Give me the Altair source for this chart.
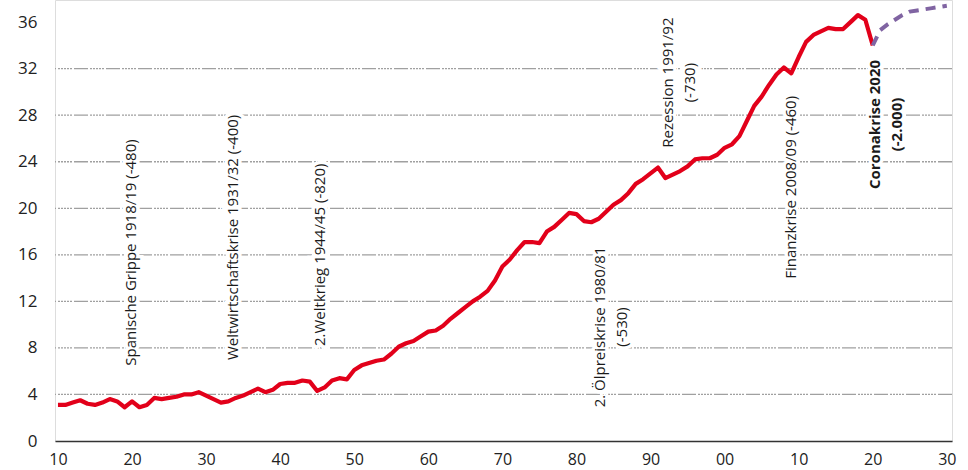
import altair as alt
import pandas as pd

hist_years = list(range(1910, 2021))
hist_values = [
    3.1, 3.1, 3.3, 3.5, 3.2, 3.1, 3.3, 3.6, 3.4, 2.9,
    3.4, 2.9, 3.1, 3.7, 3.6, 3.7, 3.8, 4.0, 4.0, 4.2,
    3.9, 3.6, 3.3, 3.4, 3.7, 3.9, 4.2, 4.5, 4.2, 4.4,
    4.9, 5.0, 5.0, 5.2, 5.1, 4.3, 4.6, 5.2, 5.4, 5.3,
    6.1, 6.5, 6.7, 6.9, 7.0, 7.5, 8.1, 8.4, 8.6, 9.0,
    9.4, 9.5, 9.9, 10.5, 11.0, 11.5, 12.0, 12.4, 12.9, 13.8,
    15.0, 15.6, 16.4, 17.1, 17.1, 17.0, 18.0, 18.4, 19.0, 19.6,
    19.5, 18.9, 18.8, 19.1, 19.7, 20.3, 20.7, 21.3, 22.1, 22.5,
    23.0, 23.5, 22.6, 22.9, 23.2, 23.6, 24.2, 24.3, 24.3, 24.6,
    25.2, 25.5, 26.2, 27.5, 28.8, 29.6, 30.6, 31.5, 32.1, 31.6,
    33.0, 34.3, 34.9, 35.2, 35.5, 35.4, 35.4, 36.0, 36.6, 36.2,
    34.0,
]
fc_years = list(range(2020, 2031))
fc_values = [34.0, 35.3, 35.8, 36.2, 36.6, 36.9, 37.0, 37.1, 37.2, 37.3, 37.4]

y_ticks = [0, 4, 8, 12, 16, 20, 24, 28, 32, 36]
grid_values = [4, 8, 12, 16, 20, 24, 28, 32]
x_ticks = list(range(1910, 2031, 5))

ann_labels = [
    "Spanische Grippe 1918/19 (-480)",
    "Weltwirtschaftskrise 1931/32 (-400)",
    "2.Weltkrieg 1944/45 (-820)",
    "2. Ölpreiskrise 1980/81\n(-530)",
    "Rezession 1991/92\n(-730)",
    "Finanzkrise 2008/09 (-460)",
]
ann_year = [1919.85, 1933.6, 1945.4, 1983.2, 1992.4, 2008.9]
ann_value = [16.2, 17.5, 16.0, 9.8, 30.8, 21.8]

corona_label = ["Coronakrise 2020\n(-2.000)"]
corona_year = [2020.3]
corona_value = [27.2]

hist = pd.DataFrame({"year": hist_years, "value": hist_values})
fc = pd.DataFrame({"year": fc_years, "value": fc_values})
grid = pd.DataFrame({"value": grid_values})
ann = pd.DataFrame({"label": ann_labels, "year": ann_year, "value": ann_value})
cor = pd.DataFrame({"label": corona_label, "year": corona_year, "value": corona_value})

FONT = "Open Sans"

xscale = alt.Scale(domain=[1909.6, 2030.7], nice=False, zero=False)
yscale = alt.Scale(domain=[0, 37.9], nice=False)

x_enc = alt.X(
    "year:Q",
    scale=xscale,
    axis=alt.Axis(
        values=x_ticks,
        labelExpr="substring(toString(100 + datum.value % 100), 1)",
        ticks=False,
        grid=False,
        domain=True,
        domainColor="#333333",
        domainWidth=1.5,
        labelFontSize=16,
        labelColor="#222222",
        labelFont=FONT,
        labelPadding=10,
        labelFlush=False,
        title=None,
    ),
)
y_enc = alt.Y(
    "value:Q",
    scale=yscale,
    axis=alt.Axis(
        values=y_ticks,
        ticks=False,
        grid=False,
        domain=False,
        labelFontSize=17,
        labelColor="#222222",
        labelFont=FONT,
        labelPadding=18,
        title=None,
    ),
)

grid_layer = alt.Chart(grid).mark_rule(
    color="#a0a0a0", strokeWidth=1.3,
    strokeDash=[14, 2, 2, 1, 2, 1, 2, 1, 2, 1, 2, 2],
).encode(y=alt.Y("value:Q", scale=yscale))

hist_line = alt.Chart(hist).mark_line(
    color="#e2001a", strokeWidth=4.2, strokeJoin="round"
).encode(x=x_enc, y=y_enc)

fc_line = alt.Chart(fc).mark_line(
    color="#8064a2", strokeWidth=4, strokeDash=[10, 7]
).encode(x=alt.X("year:Q", scale=xscale), y=alt.Y("value:Q", scale=yscale))

def text_layers(df, bold):
    common = dict(angle=270, align="center", baseline="middle", fontSize=15,
                  font=FONT, lineBreak="\n", lineHeight=22,
                  fontWeight="bold" if bold else "normal")
    halo = alt.Chart(df).mark_text(
        color="white", stroke="white", strokeWidth=7, **common
    ).encode(x=alt.X("year:Q", scale=xscale), y=alt.Y("value:Q", scale=yscale),
             text="label:N")
    txt = alt.Chart(df).mark_text(color="#1a1a1a", **common).encode(
        x=alt.X("year:Q", scale=xscale), y=alt.Y("value:Q", scale=yscale),
        text="label:N")
    return [halo, txt]

layers = [grid_layer] + text_layers(ann, False) + text_layers(cor, True) + [hist_line, fc_line]

chart = alt.layer(*layers).properties(
    width=897, height=441,
    autosize=alt.AutoSizeParams(type="none"),
    padding={"left": 55, "top": 0, "right": 16, "bottom": 29},
).configure_view(stroke=None).configure(background="white")

chart.save("out.html", embed_options={"renderer": "svg", "actions": False})
